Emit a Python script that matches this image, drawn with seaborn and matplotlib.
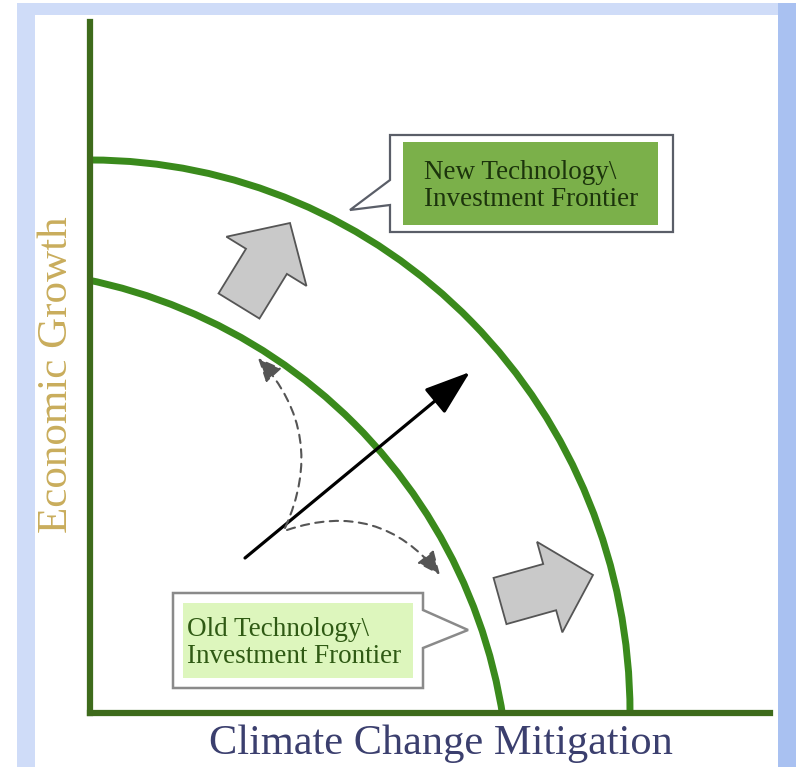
import matplotlib
matplotlib.use('Agg')
import matplotlib.pyplot as plt
import seaborn as sns
import numpy as np
from matplotlib.patches import Arc, Rectangle, Polygon, FancyArrow, FancyArrowPatch

# Frontiers (diagram units, origin at the axes corner)
frontier_labels = ['Old Technology\\\nInvestment Frontier', 'New Technology\\\nInvestment Frontier']
frontier_cx = [-109, 0]
frontier_cy = [-84, 0]
frontier_rx = [528, 540]
frontier_ry = [528, 553]

# Black "growth" arrow: tail -> head
growth_tail = (155, 155)
growth_head = (380, 341)

# Dashed trade-off arrows: tail, head, bend
tradeoff_tail = [(195, 185), (197, 183)]
tradeoff_head = [(168, 355), (350, 138)]
tradeoff_rad = [0.33, -0.35]

# Grey block arrows showing the frontier shift: tail and vector
shift_tail = [(149, 407), (410, 112)]
shift_vec = [(51, 83), (93, 26)]

sns.set_theme(style='white')
plt.rcParams['font.family'] = ['Liberation Serif', 'DejaVu Serif']

W, H = 796, 767
fig = plt.figure(figsize=(W / 100, H / 100), dpi=100)

# Background frame (light blue slide border)
bg = fig.add_axes([0, 0, 1, 1])
bg.set_xlim(0, W)
bg.set_ylim(H, 0)
bg.axis('off')
bg.add_patch(Rectangle((17, 3), W - 17, H, facecolor='#cfdcf8', edgecolor='none'))
bg.add_patch(Rectangle((778, 3), 18, H, facecolor='#a9c1f1', edgecolor='none'))
bg.add_patch(Rectangle((35, 15), 743, H, facecolor='white', edgecolor='none'))

ox, oy = 90, 713  # axes origin in pixels
ax = fig.add_axes([ox / W, (H - oy) / H, 680 / W, 691 / H])
ax.set_xlim(0, 680)
ax.set_ylim(0, 691)
ax.patch.set_alpha(0)
ax.set_xticks([])
ax.set_yticks([])
sns.despine(ax=ax)
for side in ['left', 'bottom']:
    ax.spines[side].set_color('#3e6b1c')
    ax.spines[side].set_linewidth(4.5)
    ax.spines[side].set_zorder(5)


def px(x, y):
    # reference pixel position -> diagram units
    return x - ox, oy - y


green = '#3a8a1c'
for cx, cy, rx, ry in zip(frontier_cx, frontier_cy, frontier_rx, frontier_ry):
    ax.add_patch(Arc((cx, cy), 2 * rx, 2 * ry, theta1=0, theta2=90,
                     color=green, lw=5, zorder=3))

# growth arrow
ax.annotate('', xy=growth_head, xytext=growth_tail,
            arrowprops=dict(arrowstyle='-|>,head_length=1.3,head_width=0.45',
                            color='black', lw=2.3, mutation_scale=22,
                            shrinkA=0, shrinkB=0), zorder=4)

# dashed trade-off arrows
for t, h, r in zip(tradeoff_tail, tradeoff_head, tradeoff_rad):
    ax.add_patch(FancyArrowPatch(t, h, connectionstyle=f'arc3,rad={r}',
                                 arrowstyle='-|>,head_length=0.9,head_width=0.4',
                                 mutation_scale=16, color='#555555', lw=1.5,
                                 linestyle=(0, (4, 3)), shrinkA=0, shrinkB=0,
                                 zorder=4))

# grey block arrows
for (tx, ty), (dx, dy) in zip(shift_tail, shift_vec):
    ax.add_patch(FancyArrow(tx, ty, dx, dy, width=48, head_width=94,
                            head_length=45, length_includes_head=True,
                            facecolor='#c9c9c9', edgecolor='#555555', lw=1.3,
                            zorder=4))

# callout: new frontier
new_outline = [px(390, 135), px(673, 135), px(673, 232), px(390, 232),
               px(390, 205), px(350, 210), px(390, 180)]
ax.add_patch(Polygon(new_outline, closed=True, facecolor='white',
                     edgecolor='#5a5e68', lw=1.6, zorder=6))
x0, y0 = px(403, 225)
ax.add_patch(Rectangle((x0, y0), 255, 83, facecolor='#7bb04a',
                       edgecolor='none', zorder=7))
ax.text(*px(424, 186), frontier_labels[1], fontsize=19.5, color='#1c340c',
        ha='left', va='center', linespacing=1.12, zorder=8)

# callout: old frontier
old_outline = [px(173, 593), px(423, 593), px(423, 610), px(468, 630),
               px(423, 648), px(423, 688), px(173, 688)]
ax.add_patch(Polygon(old_outline, closed=True, facecolor='white',
                     edgecolor='#8a8a8a', lw=1.8, zorder=6))
x0, y0 = px(183, 678)
ax.add_patch(Rectangle((x0, y0), 230, 75, facecolor='#ddf6bd',
                       edgecolor='none', zorder=7))
ax.text(*px(187, 643), frontier_labels[0], fontsize=19.5, color='#2f5a14',
        ha='left', va='center', linespacing=1.12, zorder=8)

# axis titles
bg.text(57, 375, 'Economic Growth', rotation=90, fontsize=31,
        color='#c9ad5c', ha='center', va='center')
bg.text(441, 744, 'Climate Change Mitigation', fontsize=30.5,
        color='#3b3f6e', ha='center', va='center')

fig.savefig('out.png', dpi=100)
